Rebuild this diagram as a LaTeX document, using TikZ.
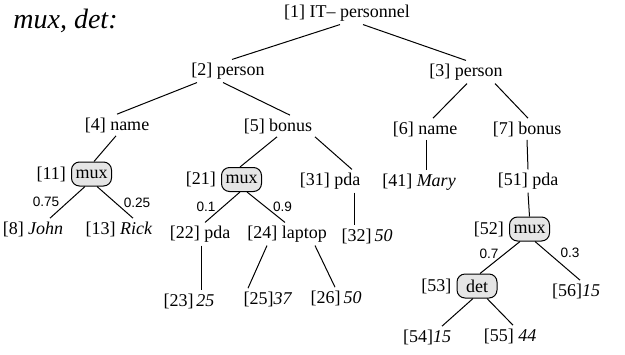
\documentclass[tikz,border=0pt]{standalone}
\usepackage{fontspec}
\setmainfont{Liberation Serif}
\setsansfont{Liberation Sans}

\begin{document}
\begin{tikzpicture}[x = 0.5pt, y = -0.5pt, font = \fontsize{9}{11}\selectfont,
	txt/.style = {inner sep = 1.5pt},
	muxbox/.style = {draw, line width = 0.5pt, fill = gray!20, rounded corners = 4pt,
		minimum width = 20pt, minimum height = 12pt, inner sep = 1pt},
	prob/.style = {font = \sffamily\fontsize{6.8}{8}\selectfont, inner sep = 0pt},
	edge/.style = {line width = 0.5pt}]

	% Picture size
	
	\useasboundingbox (0, 0) rectangle (625, 354);
	
	% Title
	
	\node [font = \fontsize{14}{16}\selectfont\itshape, anchor = base west, inner sep = 0pt] (title) at (13, 28) {mux, det:};
	
	% Draw plain nodes
	
	\foreach \n/\x/\y/\t in {
		n1/347/13/{[1] IT– personnel},
		n2/228/71/{[2] person}, n3/466/72/{[3] person},
		n4/117/125/{[4] name}, n5/278/126/{[5] bonus},
		n6/425/129/{[6] name}, n7/527/129/{[7] bonus},
		n31/330/181/{[31] pda}, n41/419/182/{[41] \textit{Mary}}, n51/528/181/{[51] pda},
		n8/33/229/{[8] \textit{John}}, n13/119/229/{[13] \textit{Rick}},
		n22/200/234/{[22] pda}, n24/287/234/{[24] laptop}, n32/367/236/{[32]\,\textit{50}},
		n23/189/301/{[23]\,\textit{25}}, n25/268/299/{[25]\textit{37}}, n26/336/298/{[26]\,\textit{50}},
		n56/576/291/{[56]\textit{15}}, n54/427/337/{[54]\textit{15}}, n55/510/336/{[55] \textit{44}}}
		\node [txt] (\n) at (\x, \y) {\t};
	
	% Draw mux / det boxes
	
	\foreach \n/\x/\y/\k/\t in {n11/91.5/174/11/mux, n21/241.5/179.5/21/mux,
		n52/529.5/229/52/mux, n53/477/286/53/det}
		\node [muxbox, label = {[label distance = -1pt]left:{[\k]}}] (\n) at (\x, \y) {\t};
	
	% Draw edges (offsets in px from south / north)
	
	\foreach \p/\c/\a/\b in {n1/n2/-7/4, n1/n3/16/0, n2/n4/-31/0, n2/n5/-5/12,
		n3/n6/1/8, n3/n7/29/1, n4/n11/-1/2.5, n5/n21/-1/-1.5, n5/n31/37/22,
		n6/n41/1/7, n7/n51/0/0, n31/n32/24/-13, n11/n8/-6.5/17, n11/n13/5.5/14,
		n21/n22/-1.5/5, n21/n24/5.5/-2, n22/n23/1/12, n24/n25/-20/-20, n24/n26/28/-1,
		n51/n52/0/0, n52/n53/-9.5/3, n52/n56/5.5/4, n53/n54/-4/15, n53/n55/10/3}
		\draw [edge] ([xshift = \a * 0.5pt]\p.south) -- ([xshift = \b * 0.5pt]\c.north);
	
	% Probabilities
	
	\foreach \n/\x/\y/\t in {q8/46/201.5/0.75, q13/137/203/0.25, q22/206/207/0.1,
		q24/282.5/207/0.9, q53/489/253.5/0.7, q56/570/253/0.3}
		\node [prob] (\n) at (\x, \y) {\t};

\end{tikzpicture}
\end{document}
